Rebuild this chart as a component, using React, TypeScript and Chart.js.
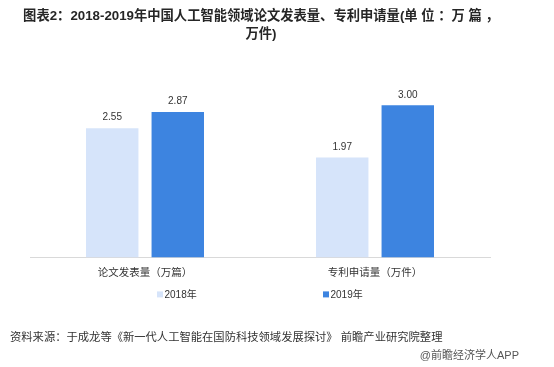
import React, { useEffect, useRef } from "react";
import { Chart, registerables } from "chart.js";

Chart.register(...registerables);

const categories = ["论文发表量（万篇）", "专利申请量（万件）"];
const seriesNames = ["2018年", "2019年"];
const values2018 = [2.55, 1.97];
const values2019 = [2.87, 3.0];
const seriesColors = ["#D6E4FA", "#3D84E0"];

const titleLine1 = "图表2：2018-2019年中国人工智能领域论文发表量、专利申请量(单 位 ：万 篇 ，";
const titleLine2 = "万件)";
const sourceText = "资料来源：于成龙等《新一代人工智能在国防科技领域发展探讨》 前瞻产业研究院整理";
const footerText = "@前瞻经济学人APP";

const FONT = '"Liberation Sans", "Noto Sans CJK SC", sans-serif';

const dataLabelPlugin = {
  id: "dataLabels",
  afterDatasetsDraw(chart: any) {
    const ctx = chart.ctx;
    ctx.save();
    ctx.font = `10px ${FONT}`;
    ctx.fillStyle = "#333333";
    ctx.textAlign = "center";
    ctx.textBaseline = "middle";
    chart.data.datasets.forEach((ds: any, di: number) => {
      const meta = chart.getDatasetMeta(di);
      meta.data.forEach((bar: any, i: number) => {
        ctx.fillText(Number(ds.data[i]).toFixed(2), bar.x, bar.y - 10.5);
      });
    });
    ctx.restore();
  },
};

const legendPlugin = {
  id: "customLegend",
  afterDraw(chart: any) {
    const ctx = chart.ctx;
    const { left, right, bottom } = chart.chartArea;
    const center = (left + right) / 2;
    const y = bottom + 37;
    const xs = [center - 103, center + 63];
    ctx.save();
    ctx.font = `10px ${FONT}`;
    ctx.textBaseline = "middle";
    ctx.textAlign = "left";
    chart.data.datasets.forEach((ds: any, i: number) => {
      ctx.fillStyle = ds.backgroundColor;
      ctx.fillRect(xs[i], y - 3, 6, 6);
      ctx.fillStyle = "#333333";
      ctx.fillText(ds.label, xs[i] + 7.5, y + 0.5);
    });
    ctx.restore();
  },
};

function App() {
  const canvasRef = useRef<HTMLCanvasElement | null>(null);

  useEffect(() => {
    if (!canvasRef.current) return;
    const chart = new Chart(canvasRef.current, {
      type: "bar",
      data: {
        labels: categories,
        datasets: [
          { label: seriesNames[0], data: values2018, backgroundColor: seriesColors[0] },
          { label: seriesNames[1], data: values2019, backgroundColor: seriesColors[1] },
        ],
      },
      options: {
        animation: false,
        responsive: false,
        maintainAspectRatio: false,
        layout: { padding: { top: 80, left: 30, right: 64, bottom: 79 } },
        datasets: {
          bar: { categoryPercentage: 0.57, barPercentage: 0.8 },
        },
        plugins: {
          legend: { display: false },
          title: { display: false },
          tooltip: { enabled: false },
        },
        scales: {
          x: {
            grid: { display: false, drawTicks: false },
            border: { display: true, color: "#D9D9D9", width: 1 },
            ticks: {
              padding: 9,
              color: "#333333",
              font: { family: FONT, size: 10.5 },
              maxRotation: 0,
            },
          },
          y: {
            display: false,
            min: 0,
            max: 3.5,
          },
        },
      },
      plugins: [dataLabelPlugin, legendPlugin],
    });
    return () => chart.destroy();
  }, []);

  return (
    <div
      style={{
        position: "absolute",
        left: 0,
        top: 0,
        width: 554,
        height: 367,
        background: "#ffffff",
        overflow: "hidden",
        fontFamily: FONT,
      }}
    >
      <canvas
        ref={canvasRef}
        width={554}
        height={367}
        style={{ position: "absolute", left: 0, top: 0, width: 554, height: 367 }}
      />
      <div
        style={{
          position: "absolute",
          left: 0,
          top: 7,
          width: 522,
          textAlign: "center",
          fontWeight: "bold",
          fontSize: 13.3,
          lineHeight: "18px",
          color: "#262626",
          whiteSpace: "nowrap",
        }}
      >
        {titleLine1}
        <br />
        {titleLine2}
      </div>
      <div
        style={{
          position: "absolute",
          left: 10,
          top: 330,
          fontSize: 11.3,
          lineHeight: "14px",
          color: "#333333",
          whiteSpace: "nowrap",
        }}
      >
        {sourceText}
      </div>
      <div
        style={{
          position: "absolute",
          right: 35,
          top: 348,
          fontSize: 11,
          lineHeight: "14px",
          color: "#555555",
          whiteSpace: "nowrap",
        }}
      >
        {footerText}
      </div>
    </div>
  );
}

export default App;
